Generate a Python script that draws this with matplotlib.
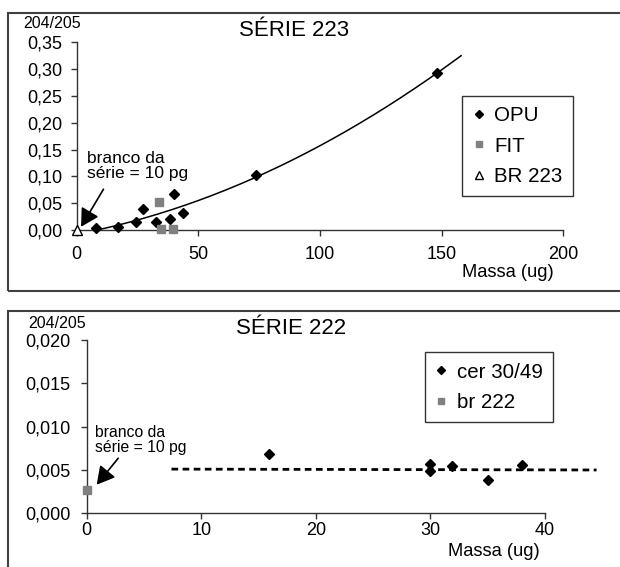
import numpy as np
import matplotlib

matplotlib.use("Agg")
import matplotlib.pyplot as plt
from matplotlib.patches import Rectangle
from matplotlib.ticker import FuncFormatter

plt.rcParams["font.family"] = ["Liberation Sans", "DejaVu Sans"]

# --- SÉRIE 223 ---
opu_x = [7.9, 16.8, 24.4, 27.4, 32.6, 38.3, 40.1, 43.8, 73.6, 148.1]
opu_y = [0.003, 0.005, 0.014, 0.039, 0.014, 0.020, 0.067, 0.032, 0.103, 0.292]
fit_x = [34.0, 34.5, 39.5]
fit_y = [0.052, 0.002, 0.001]
br223_x = [0.0]
br223_y = [0.0]
x_ticks_223 = [0, 50, 100, 150, 200]
y_ticks_223 = [0.00, 0.05, 0.10, 0.15, 0.20, 0.25, 0.30, 0.35]

# --- SÉRIE 222 ---
cer_x = [15.9, 30.0, 30.0, 31.9, 35.0, 38.0]
cer_y = [0.0068, 0.0057, 0.0049, 0.0055, 0.0038, 0.0056]
br222_x = [0.0]
br222_y = [0.0027]
trend222_x = [7.4, 44.5]
trend222_y = [0.0051, 0.0050]
x_ticks_222 = [0, 10, 20, 30, 40]
y_ticks_222 = [0.000, 0.005, 0.010, 0.015, 0.020]

AX_COLOR = "#333333"
FRAME_COLOR = "#404040"


def comma_fmt(decimals):
    return FuncFormatter(lambda v, pos: f"{v:.{decimals}f}".replace(".", ","))


def style_axes(ax, xpad, ypad):
    for side in ("top", "right"):
        ax.spines[side].set_visible(False)
    for side in ("left", "bottom"):
        ax.spines[side].set_color(AX_COLOR)
        ax.spines[side].set_linewidth(1.0)
    ax.tick_params(direction="out", length=4.5, width=1, color=AX_COLOR,
                   labelsize=13)
    ax.tick_params(axis="x", pad=xpad)
    ax.tick_params(axis="y", pad=ypad)
    ax.patch.set_alpha(0)


def add_legend(ax, anchor):
    leg = ax.legend(loc="upper left", bbox_to_anchor=anchor,
                    bbox_transform=fig.transFigure, fontsize=14.8, frameon=True,
                    fancybox=False, edgecolor="black", borderaxespad=0,
                    borderpad=0.5, labelspacing=0.55, handlelength=0.6,
                    handletextpad=0.45, markerscale=0.8)
    leg.get_frame().set_linewidth(1.0)
    return leg


fig = plt.figure(figsize=(6.2, 5.67), dpi=100)

# panel frames (cut off by the image edge, like in the source)
fig.patches.append(Rectangle((8 / 620, 1 - 291 / 567), 1.2, (291 - 12.7) / 567,
                             transform=fig.transFigure, fill=False,
                             edgecolor=FRAME_COLOR, lw=1.5, clip_on=False))
fig.patches.append(Rectangle((8 / 620, -0.2), 1.2, 0.2 + (567 - 310.7) / 567,
                             transform=fig.transFigure, fill=False,
                             edgecolor=FRAME_COLOR, lw=1.5, clip_on=False))

arrow_style = dict(arrowstyle="-|>,head_length=0.45,head_width=0.25", color="black",
                   lw=1.2, mutation_scale=24, shrinkA=0, shrinkB=0)

# ---------------- top panel ----------------
ax1 = fig.add_axes([76.7 / 620, 1 - 230 / 567, (563.3 - 76.7) / 620, (230 - 42.3) / 567])
style_axes(ax1, xpad=7, ypad=6)

coef = np.polyfit(opu_x, opu_y, 2)
xs = np.linspace(0, 158, 200)
ax1.plot(xs, np.polyval(coef, xs), color="black", lw=1.1, zorder=2)

ax1.plot(opu_x, opu_y, "D", color="black", ms=5, label="OPU", clip_on=False, zorder=3)
ax1.plot(fit_x, fit_y, "s", color="#808080", ms=6, label="FIT", clip_on=False, zorder=3)
ax1.plot(br223_x, br223_y, "^", mfc="white", mec="black", mew=1, ms=7.5,
         label="BR 223", clip_on=False, zorder=4)

ax1.set_xlim(0, 200)
ax1.set_ylim(0, 0.35)
ax1.set_xticks(x_ticks_223)
ax1.set_yticks(y_ticks_223)
ax1.yaxis.set_major_formatter(comma_fmt(2))

ax1.text(4.4, 0.119, "branco da\nsérie = 10 pg", fontsize=12.5, ha="left", va="center",
         linespacing=1.05)
ax1.annotate("", xy=(1.8, 0.006), xytext=(11, 0.076), arrowprops=arrow_style,
             annotation_clip=False)

add_legend(ax1, (462.3 / 620, 1 - 96 / 567))

fig.text(52 / 620, 1 - 23 / 567, "204/205", fontsize=11.5, ha="center", va="center")
fig.text(294 / 620, 1 - 31 / 567, "SÉRIE 223", fontsize=16, ha="center", va="center")
fig.text(508 / 620, 1 - 272.7 / 567, "Massa (ug)", fontsize=13.2, ha="center", va="center")

# ---------------- bottom panel ----------------
ax2 = fig.add_axes([86.7 / 620, 1 - 513.3 / 567, (545 - 86.7) / 620, (513.3 - 340) / 567])
style_axes(ax2, xpad=1.5, ypad=7)

ax2.plot(trend222_x, trend222_y, color="black", lw=2, dashes=(2.4, 1.6),
         clip_on=False, zorder=2)
ax2.plot(cer_x, cer_y, "D", color="black", ms=5, label="cer 30/49", zorder=3)
ax2.plot(br222_x, br222_y, "s", color="#808080", ms=6, label="br 222",
         clip_on=False, zorder=3)

ax2.set_xlim(0, 40)
ax2.set_ylim(0, 0.020)
ax2.set_xticks(x_ticks_222)
ax2.set_yticks(y_ticks_222)
ax2.yaxis.set_major_formatter(comma_fmt(3))

ax2.text(0.72, 0.00846, "branco da\nsérie = 10 pg", fontsize=11.3, ha="left", va="center",
         linespacing=1.05)
ax2.annotate("", xy=(0.87, 0.0033), xytext=(2.75, 0.00635), arrowprops=arrow_style,
             annotation_clip=False)

add_legend(ax2, (425 / 620, 1 - 352.3 / 567))

fig.text(57.5 / 620, 1 - 324 / 567, "204/205", fontsize=11.5, ha="center", va="center")
fig.text(291 / 620, 1 - 329 / 567, "SÉRIE 222", fontsize=16, ha="center", va="center")
fig.text(494 / 620, 1 - 551.7 / 567, "Massa (ug)", fontsize=13.2, ha="center", va="center")

fig.savefig("out.png", dpi=100)
